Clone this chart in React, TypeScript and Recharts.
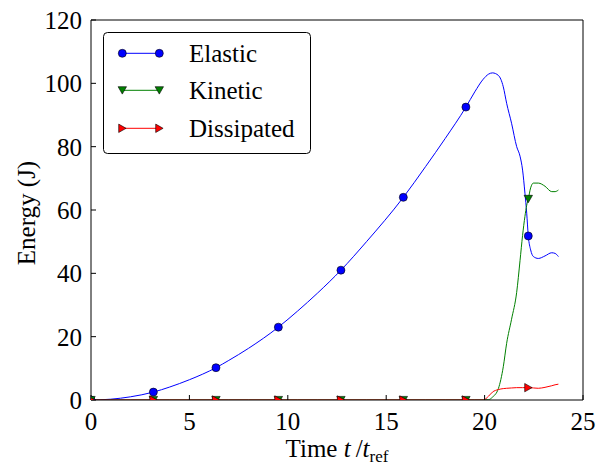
import React, { useLayoutEffect } from 'react';
import { LineChart, Line, XAxis, YAxis } from 'recharts';

const time = [0, 1, 2, 3.17, 4, 5, 6.35, 7, 8, 9.52, 10.5, 11.5, 12.7, 14, 15.87, 17, 18, 19.05, 19.5, 19.93, 20.2, 20.4, 20.7, 20.95, 21.12, 21.37, 21.63, 21.8, 21.93, 22.05, 22.14, 22.22, 22.34, 22.48, 22.73, 23.07, 23.41, 23.58, 23.75];
const elastic = [0, 0.25, 1.0, 2.5, 4.1, 6.4, 10.2, 12.5, 16.3, 23.0, 28.1, 33.7, 41.0, 50.0, 64.0, 73.7, 82.6, 92.5, 97.3, 101.3, 102.9, 103.3, 102.5, 98.9, 93.7, 87.4, 80.0, 77.0, 72.6, 65.3, 59.0, 51.8, 47.4, 45.3, 44.7, 45.5, 46.5, 46.3, 45.3];
const kinetic = [0, 0, 0, 0, 0, 0, 0, 0, 0, 0, 0, 0, 0, 0, 0, 0, 0, 0, 0, 0, 0.1, 0.9, 3.6, 10.5, 17.9, 25.5, 34, 44, 52, 58, 61.5, 63.5, 67, 68.5, 68.5, 67.5, 65.8, 65.8, 66.3];
const dissipated = [0, 0, 0, 0, 0, 0, 0, 0, 0, 0, 0, 0, 0, 0, 0, 0, 0, 0, 0, 0, 1.2, 2.5, 3.3, 3.6, 3.7, 3.8, 3.9, 3.9, 3.9, 3.9, 3.9, 3.9, 3.9, 3.8, 3.7, 4.0, 4.5, 4.8, 5.0];
const markerTimes = [0, 3.17, 6.35, 9.52, 12.7, 15.87, 19.05, 22.22];
const xTicks = [0, 5, 10, 15, 20, 25];
const yTicks = [0, 20, 40, 60, 80, 100, 120];

const seriesNames = ['Elastic', 'Kinetic', 'Dissipated'];
const seriesKeys = ['elastic', 'kinetic', 'dissipated'];
const seriesColors = ['#0000ff', '#008000', '#ff0000'];
const seriesShapes = ['circle', 'triDown', 'triRight'];

const data = time.map((t, i) => ({ t, elastic: elastic[i], kinetic: kinetic[i], dissipated: dissipated[i] }));

const FONT = '"Liberation Serif", "DejaVu Serif", serif';
const FS = 25;

function Marker({ shape, cx, cy, color }: { shape: string; cx: number; cy: number; color: string }) {
  if (shape === 'circle') {
    return <circle cx={cx} cy={cy} r={4} fill={color} stroke="#000" strokeWidth={0.6} />;
  }
  if (shape === 'triDown') {
    const pts = `${cx - 4.2},${cy - 3.6} ${cx + 4.2},${cy - 3.6} ${cx},${cy + 3.8}`;
    return <polygon points={pts} fill={color} stroke="#000" strokeWidth={0.6} />;
  }
  const pts = `${cx - 3.6},${cy - 4.2} ${cx - 3.6},${cy + 4.2} ${cx + 3.8},${cy}`;
  return <polygon points={pts} fill={color} stroke="#000" strokeWidth={0.6} />;
}

const makeDot = (shape: string, color: string) => (props: any) => {
  const { cx, cy, payload, index } = props;
  const isMarker = markerTimes.some((m) => Math.abs(m - payload.t) < 1e-6);
  if (!isMarker || cx == null || cy == null) return <g key={`n-${shape}-${index}`} />;
  return (
    <g key={`m-${shape}-${index}`}>
      <Marker shape={shape} cx={cx} cy={cy} color={color} />
    </g>
  );
};

const XLabel = (props: any) => {
  const vb = props.viewBox || { x: 91, y: 400, width: 492 };
  return (
    <text x={vb.x + vb.width / 2} y={vb.y + 57} textAnchor="middle" style={{ fontFamily: FONT, fontSize: FS }} fill="#000">
      {'Time '}
      <tspan fontStyle="italic">t</tspan>
      {'\u2009/'}
      <tspan fontStyle="italic">t</tspan>
      <tspan style={{ fontSize: 17 }} dy={5}>ref</tspan>
    </text>
  );
};

const YLabel = (props: any) => {
  const vb = props.viewBox || { x: 0, y: 20, width: 91, height: 380 };
  const cx = vb.x + 26;
  const cy = vb.y + vb.height / 2 + 3;
  return (
    <text x={cx} y={cy} transform={`rotate(-90, ${cx}, ${cy})`} textAnchor="middle" dominantBaseline="central" style={{ fontFamily: FONT, fontSize: FS }} fill="#000">
      Energy (J)
    </text>
  );
};

function LegendBox() {
  const rows = [21.3, 58.3, 96.3];
  return (
    <svg width={209} height={123} style={{ position: 'absolute', left: 103, top: 32 }}>
      <rect x={0.5} y={0.5} width={207} height={121} rx={4} ry={4} fill="#fff" stroke="#000" strokeWidth={1} />
      {seriesNames.map((name, i) => (
        <g key={name}>
          <line x1={19.3} x2={56.3} y1={rows[i]} y2={rows[i]} stroke={seriesColors[i]} strokeWidth={1} />
          <Marker shape={seriesShapes[i]} cx={19.3} cy={rows[i]} color={seriesColors[i]} />
          <Marker shape={seriesShapes[i]} cx={56.3} cy={rows[i]} color={seriesColors[i]} />
          <text x={86} y={rows[i]} dominantBaseline="central" style={{ fontFamily: FONT, fontSize: FS }} fill="#000">
            {name}
          </text>
        </g>
      ))}
    </svg>
  );
}

export default function App() {
  useLayoutEffect(() => {
    document.body.style.margin = '0';
  }, []);
  const tickStyle = { fontSize: FS, fill: '#000', fontFamily: FONT, style: { fontFamily: FONT, fontSize: FS } };
  return (
    <div style={{ position: 'relative', width: 597, height: 466, fontFamily: FONT, background: '#fff' }}>
      <LineChart width={597} height={466} data={data} margin={{ top: 19, right: 13, bottom: 0, left: 0 }} style={{ fontFamily: FONT }}>
        <XAxis
          dataKey="t"
          type="number"
          domain={[0, 25]}
          ticks={xTicks}
          interval={0}
          height={66}
          tickSize={-5}
          tickMargin={17}
          tick={tickStyle}
          stroke="#000"
          allowDataOverflow
          label={XLabel}
        />
        <XAxis
          xAxisId="top"
          orientation="top"
          type="number"
          domain={[0, 25]}
          ticks={xTicks}
          interval={0}
          height={1}
          tickSize={-5}
          tick={false}
          stroke="#000"
          allowDataOverflow
        />
        <YAxis
          type="number"
          domain={[0, 120]}
          ticks={yTicks}
          interval={0}
          width={91}
          tickSize={-5}
          tickMargin={14}
          tick={tickStyle}
          stroke="#000"
          allowDataOverflow
          label={YLabel}
        />
        <YAxis
          yAxisId="right"
          orientation="right"
          type="number"
          domain={[0, 120]}
          ticks={yTicks}
          interval={0}
          width={1}
          tickSize={-5}
          tick={false}
          stroke="#000"
          allowDataOverflow
        />
        {seriesKeys.map((k, i) => (
          <Line
            key={k}
            dataKey={k}
            type="monotone"
            stroke={seriesColors[i]}
            strokeWidth={1}
            dot={makeDot(seriesShapes[i], seriesColors[i])}
            activeDot={false}
            isAnimationActive={false}
          />
        ))}
      </LineChart>
      <LegendBox />
    </div>
  );
}
